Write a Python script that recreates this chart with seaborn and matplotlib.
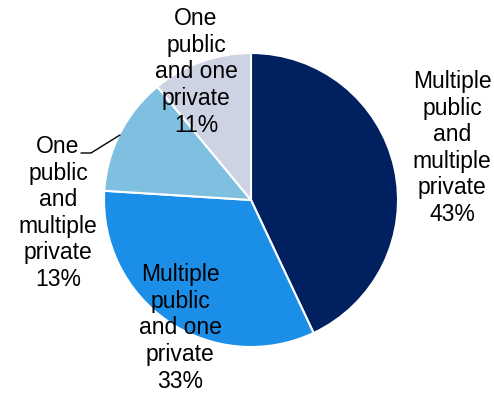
import matplotlib
matplotlib.use("Agg")
import matplotlib.pyplot as plt
import seaborn as sns

categories = ["Multiple public and multiple private", "Multiple public and one private",
              "One public and multiple private", "One public and one private"]
values = [43, 33, 13, 11]
labels = ["Multiple\npublic\nand\nmultiple\nprivate\n43%",
          "Multiple\npublic\nand one\nprivate\n33%",
          "One\npublic\nand\nmultiple\nprivate\n13%",
          "One\npublic\nand one\nprivate\n11%"]
colors = ["#002060", "#1b8fe8", "#7fbfe0", "#cdd3e3"]

sns.set_theme(style="white")
plt.rcParams['font.family'] = ['Liberation Sans', 'DejaVu Sans']

W, H = 494, 394
fig = plt.figure(figsize=(W / 100, H / 100), dpi=100)
cx, cy, r = 251, 200, 147
ax = fig.add_axes([(cx - r) / W, (H - cy - r) / H, 2 * r / W, 2 * r / H])
ax.axis("off")

ax.pie(values, colors=colors, startangle=90, counterclock=False, radius=1,
       wedgeprops=dict(edgecolor="white", linewidth=1.5))
ax.set_xlim(-1, 1)
ax.set_ylim(-1, 1)
ax.set_aspect("equal")

def d(px, py):
    return ((px - cx) / r, (cy - py) / r)

pos = [d(452, 148), d(180, 328), d(58, 213), d(196, 72)]
for lab, (x, y) in zip(labels, pos):
    ax.text(x, y, lab, ha="center", va="center", fontsize=16.5, color="black",
            linespacing=1.2, clip_on=False)

p1, p2, p3 = d(81, 153), d(91, 153), d(120, 135)
ax.plot([p1[0], p2[0], p3[0]], [p1[1], p2[1], p3[1]], color="black", lw=1,
        clip_on=False)

fig.savefig("out.png", dpi=100)
